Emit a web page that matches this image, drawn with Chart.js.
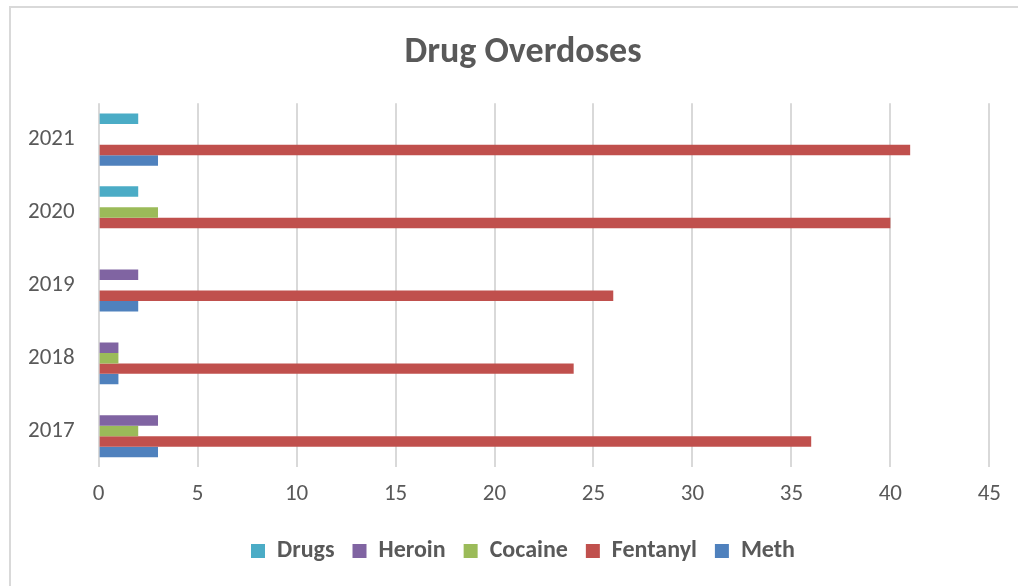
<!DOCTYPE html>
<html>
<head>
<meta charset="utf-8">
<script src="https://cdn.jsdelivr.net/npm/chart.js@4/dist/chart.umd.min.js"></script>
<style>
	body { margin: 0; background: #fff; overflow: hidden; }
	#wrap { width: 1018px; height: 586px; position: relative; overflow: hidden; }
	#bargraph { position: absolute; left: 0; top: 0; }
</style>
</head>
<body>
<div id="wrap"><canvas id="bargraph" width="1060" height="586"></canvas></div>
<script>
// years top to bottom, as in the picture
var years = ['2021', '2020', '2019', '2018', '2017'];

var drugs    = [2, 2, 0, 0, 0];
var heroin   = [0, 0, 2, 1, 3];
var cocaine  = [0, 3, 0, 1, 2];
var fentanyl = [41, 40, 26, 24, 36];
var meth     = [3, 0, 2, 1, 3];

var xTicks = [0, 5, 10, 15, 20, 25, 30, 35, 40, 45];

var font = "Carlito, 'Open Sans', sans-serif";
var grey = '#595959';

// light frame like the spreadsheet chart area (its right side is cut off in the picture)
var frame = {
	id: 'frame',
	beforeDraw: function(chart) {
		var c = chart.ctx;
		c.save();
		c.fillStyle = '#fff';
		c.fillRect(0, 0, chart.width, chart.height);
		c.strokeStyle = '#d9d9d9';
		c.lineWidth = 2;
		c.beginPath();
		c.moveTo(10, 586);
		c.lineTo(10, 7);
		c.lineTo(chart.width, 7);
		c.stroke();
		c.restore();
	}
};

var chartdata = {
	labels: years,
	datasets: [
		{ label: 'Drugs', data: drugs, backgroundColor: '#4bacc6' },
		{ label: 'Heroin', data: heroin, backgroundColor: '#8064a2' },
		{ label: 'Cocaine', data: cocaine, backgroundColor: '#9bbb59' },
		{ label: 'Fentanyl', data: fentanyl, backgroundColor: '#c0504d' },
		{ label: 'Meth', data: meth, backgroundColor: '#4f81bd' }
	]
};

var ctx = document.getElementById('bargraph');

var barGraph = new Chart(ctx, {
	type: 'bar',
	data: chartdata,
	plugins: [frame],
	options: {
		indexAxis: 'y',
		responsive: false,
		animation: false,
		layout: { padding: { left: 4, right: 18, top: 0, bottom: 13 } },
		datasets: {
			bar: { categoryPercentage: 0.72, barPercentage: 1, borderWidth: 0 }
		},
		scales: {
			x: {
				min: 0,
				max: 45,
				afterBuildTicks: function(axis) {
					axis.ticks = xTicks.map(function(v) { return { value: v }; });
				},
				afterFit: function(axis) {
					// keep the plot narrower than the title / legend band
					axis.paddingRight += 46;
				},
				grid: { color: '#d9d9d9', lineWidth: 2, drawTicks: false },
				border: { display: false },
				ticks: { color: grey, font: { family: font, size: 23 }, padding: 13 }
			},
			y: {
				grid: { display: false, drawTicks: false },
				border: { display: false },
				ticks: { color: grey, font: { family: font, size: 23 }, padding: 24 }
			}
		},
		plugins: {
			title: {
				display: true,
				text: 'Drug Overdoses',
				color: grey,
				font: { family: font, size: 36, weight: 'bold' },
				padding: { top: 31, bottom: 29 }
			},
			legend: {
				display: true,
				position: 'bottom',
				labels: {
					color: grey,
					font: { family: font, size: 24, weight: 'bold' },
					boxWidth: 14,
					boxHeight: 14,
					padding: 18
				}
			},
			tooltip: { enabled: false }
		}
	}
});
</script>
</body>
</html>
